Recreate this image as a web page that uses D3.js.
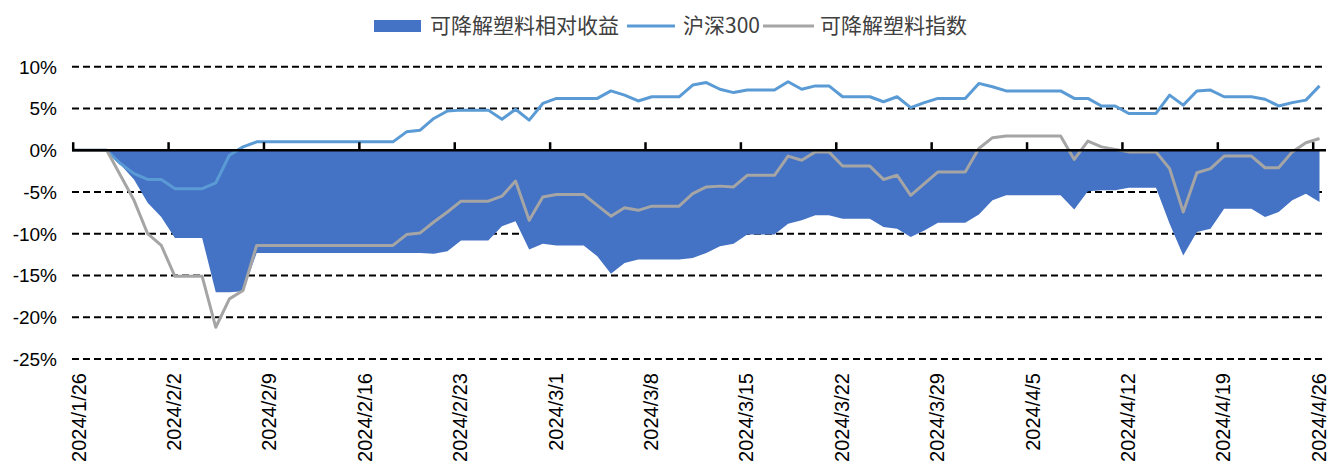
<!DOCTYPE html>
<html>
<head>
<meta charset="utf-8">
<script src="https://cdn.jsdelivr.net/npm/d3@7"></script>
<style>
  html, body { margin: 0; padding: 0; background: #fff; }
  svg { display: block; }
</style>
</head>
<body>
<svg id="chart" width="1338" height="466"></svg>
<script>
// Daily series (calendar days, non-trading days carry the previous close), in %
const firstDay = "2024-01-25";
const lastDay = "2024-04-26";

const tickDates = ["2024-01-26", "2024-02-02", "2024-02-09", "2024-02-16", "2024-02-23",
  "2024-03-01", "2024-03-08", "2024-03-15", "2024-03-22", "2024-03-29",
  "2024-04-05", "2024-04-12", "2024-04-19", "2024-04-26"];

const yTicks = [10, 5, 0, -5, -10, -15, -20, -25];

const seriesNames = ["可降解塑料相对收益", "沪深300", "可降解塑料指数"];

// 沪深300 cumulative return
const hs300 = [
  0, 0, 0, 0,
  -1.6, -2.8, -3.5, -3.5, -4.6, -4.6, -4.6,
  -3.9, -0.6, 0.4, 1.0, 1.0, 1.0, 1.0,
  1.0, 1.0, 1.0, 1.0, 1.0, 1.0, 1.0,
  2.2, 2.4, 3.8, 4.7, 4.8, 4.8, 4.8,
  3.7, 4.9, 3.6, 5.6, 6.2, 6.2, 6.2,
  6.2, 7.1, 6.6, 5.9, 6.4, 6.4, 6.4,
  7.8, 8.1, 7.3, 6.9, 7.2, 7.2, 7.2,
  8.2, 7.3, 7.7, 7.7, 6.4, 6.4, 6.4,
  5.8, 6.4, 5.1, 5.7, 6.2, 6.2, 6.2,
  8.0, 7.6, 7.1, 7.1, 7.1, 7.1, 7.1,
  6.2, 6.2, 5.3, 5.3, 4.4, 4.4, 4.4,
  6.6, 5.4, 7.1, 7.2, 6.4, 6.4, 6.4,
  6.1, 5.3, 5.7, 6.0, 7.7
];

// 可降解塑料指数 cumulative return
const plasticIndex = [
  0, 0, 0, 0,
  -3.0, -6.0, -10.0, -11.4, -15.1, -15.1, -15.1,
  -21.2, -17.8, -16.8, -11.4, -11.4, -11.4, -11.4,
  -11.4, -11.4, -11.4, -11.4, -11.4, -11.4, -11.4,
  -10.1, -9.9, -8.6, -7.4, -6.1, -6.1, -6.1,
  -5.5, -3.7, -8.4, -5.6, -5.3, -5.3, -5.3,
  -6.6, -7.9, -6.9, -7.2, -6.7, -6.7, -6.7,
  -5.2, -4.4, -4.3, -4.4, -3.0, -3.0, -3.0,
  -0.7, -1.2, -0.2, -0.2, -1.9, -1.9, -1.9,
  -3.5, -3.0, -5.4, -4.0, -2.6, -2.6, -2.6,
  0.2, 1.5, 1.7, 1.7, 1.7, 1.7, 1.7,
  -1.1, 1.1, 0.4, 0.1, -0.2, -0.2, -0.2,
  -2.2, -7.4, -2.7, -2.2, -0.7, -0.7, -0.7,
  -2.1, -2.1, -0.2, 0.9, 1.4
];

// 可降解塑料相对收益 (index vs 沪深300)
const relative = [
  0, 0, 0, 0,
  -1.7, -3.5, -6.3, -8.0, -10.5, -10.5, -10.5,
  -17.0, -17.0, -16.9, -12.3, -12.3, -12.3, -12.3,
  -12.3, -12.3, -12.3, -12.3, -12.3, -12.3, -12.3,
  -12.3, -12.3, -12.4, -12.1, -10.8, -10.8, -10.8,
  -9.1, -8.5, -11.9, -11.2, -11.4, -11.4, -11.4,
  -12.7, -14.8, -13.5, -13.1, -13.1, -13.1, -13.1,
  -12.9, -12.3, -11.5, -11.2, -10.1, -10.1, -10.1,
  -8.8, -8.4, -7.8, -7.8, -8.2, -8.2, -8.2,
  -9.2, -9.4, -10.4, -9.6, -8.7, -8.7, -8.7,
  -7.7, -6.0, -5.4, -5.4, -5.4, -5.4, -5.4,
  -7.1, -4.9, -4.8, -4.8, -4.5, -4.5, -4.5,
  -8.8, -12.6, -9.8, -9.4, -7.0, -7.0, -7.0,
  -8.0, -7.4, -6.0, -5.2, -6.2
];

const colors = { relative: "#4472C4", hs300: "#5B9BD5", index: "#A5A5A5" };

const parse = d3.timeParse("%Y-%m-%d");
const fmt = d3.timeFormat("%Y/%-m/%-d");
const days = d3.timeDay.range(parse(firstDay), d3.timeDay.offset(parse(lastDay), 1));
const rows = days.map((d, i) => ({ date: d, hs: hs300[i], idx: plasticIndex[i], rel: relative[i] }));

const plot = { left: 72, right: 1326, top: 66.7, bottom: 359 };

const svg = d3.select("#chart");

const x = d3.scaleTime()
  .domain([parse("2024-01-26"), parse("2024-04-26")])
  .range([72.7, 1312.7]);
// each day's value sits in the middle of its day slot
const xc = d => x(d3.timeHour.offset(d, 12));
const y = d3.scaleLinear().domain([-25, 10]).range([plot.bottom, plot.top]);

svg.append("defs").append("clipPath").attr("id", "plotClip")
  .append("rect")
  .attr("x", plot.left).attr("y", 0)
  .attr("width", plot.right - plot.left).attr("height", 466);

// dashed gridlines
svg.append("g").selectAll("line")
  .data(yTicks.filter(v => v !== 0))
  .join("line")
  .attr("x1", plot.left).attr("x2", plot.right)
  .attr("y1", d => y(d)).attr("y2", d => y(d))
  .attr("stroke", "#000").attr("stroke-width", 2)
  .attr("stroke-dasharray", "7,4");

// y-axis labels
svg.append("g").selectAll("text")
  .data(yTicks)
  .join("text")
  .attr("x", 57).attr("y", d => y(d))
  .attr("dy", "0.36em")
  .attr("text-anchor", "end")
  .style("font-family", "'Liberation Sans', Arial, sans-serif")
  .style("font-size", "19px")
  .attr("fill", "#000")
  .text(d => d + "%");

const chartG = svg.append("g").attr("clip-path", "url(#plotClip)");

// relative return area
chartG.append("path")
  .datum(rows)
  .attr("fill", colors.relative)
  .attr("d", d3.area().x(d => xc(d.date)).y0(y(0)).y1(d => y(d.rel)));

// zero axis line with upward ticks
svg.append("line")
  .attr("x1", plot.left).attr("x2", plot.right)
  .attr("y1", y(0)).attr("y2", y(0))
  .attr("stroke", "#000").attr("stroke-width", 2.5);

const tickAxis = svg.append("g")
  .attr("transform", `translate(0,${y(0)})`)
  .call(d3.axisTop(x).tickValues(tickDates.map(parse)).tickFormat("").tickSizeInner(8).tickSizeOuter(0));
tickAxis.select(".domain").remove();
tickAxis.selectAll(".tick line").attr("stroke", "#000").attr("stroke-width", 2.5);

// series lines
chartG.append("path")
  .datum(rows)
  .attr("fill", "none")
  .attr("stroke", colors.hs300)
  .attr("stroke-width", 3)
  .attr("stroke-linejoin", "round")
  .attr("d", d3.line().x(d => xc(d.date)).y(d => y(d.hs)));

chartG.append("path")
  .datum(rows)
  .attr("fill", "none")
  .attr("stroke", colors.index)
  .attr("stroke-width", 3)
  .attr("stroke-linejoin", "round")
  .attr("d", d3.line().x(d => xc(d.date)).y(d => y(d.idx)));

// rotated date labels
const labelAxis = svg.append("g")
  .attr("transform", "translate(0,373)")
  .call(d3.axisBottom(x).tickValues(tickDates.map(parse)).tickFormat(fmt).tickSize(0));
labelAxis.select(".domain").remove();
labelAxis.selectAll(".tick text")
  .attr("x", 0).attr("y", 0).attr("dy", 0)
  .attr("transform", "translate(12.5,0) rotate(-90)")
  .style("text-anchor", "end")
  .style("font-family", "'Liberation Sans', Arial, sans-serif")
  .style("font-size", "20px")
  .attr("fill", "#000");

// legend
const legend = svg.append("g").attr("transform", "translate(0,26)");
const legendFont = "'Noto Sans CJK SC', 'Noto Sans', sans-serif";

legend.append("rect")
  .attr("x", 374).attr("y", -6).attr("width", 47).attr("height", 12)
  .attr("fill", colors.relative);
legend.append("text")
  .attr("x", 430).attr("y", 0).attr("dy", "0.35em")
  .style("font-family", legendFont).style("font-size", "21px")
  .attr("fill", "#404040")
  .text(seriesNames[0]);

legend.append("line")
  .attr("x1", 627).attr("x2", 675).attr("y1", 0).attr("y2", 0)
  .attr("stroke", colors.hs300).attr("stroke-width", 3);
legend.append("text")
  .attr("x", 683).attr("y", 0).attr("dy", "0.35em")
  .style("font-family", legendFont).style("font-size", "21px")
  .attr("fill", "#404040")
  .text(seriesNames[1]);

legend.append("line")
  .attr("x1", 763).attr("x2", 814).attr("y1", 0).attr("y2", 0)
  .attr("stroke", colors.index).attr("stroke-width", 3);
legend.append("text")
  .attr("x", 820).attr("y", 0).attr("dy", "0.35em")
  .style("font-family", legendFont).style("font-size", "21px")
  .attr("fill", "#404040")
  .text(seriesNames[2]);
</script>
</body>
</html>
